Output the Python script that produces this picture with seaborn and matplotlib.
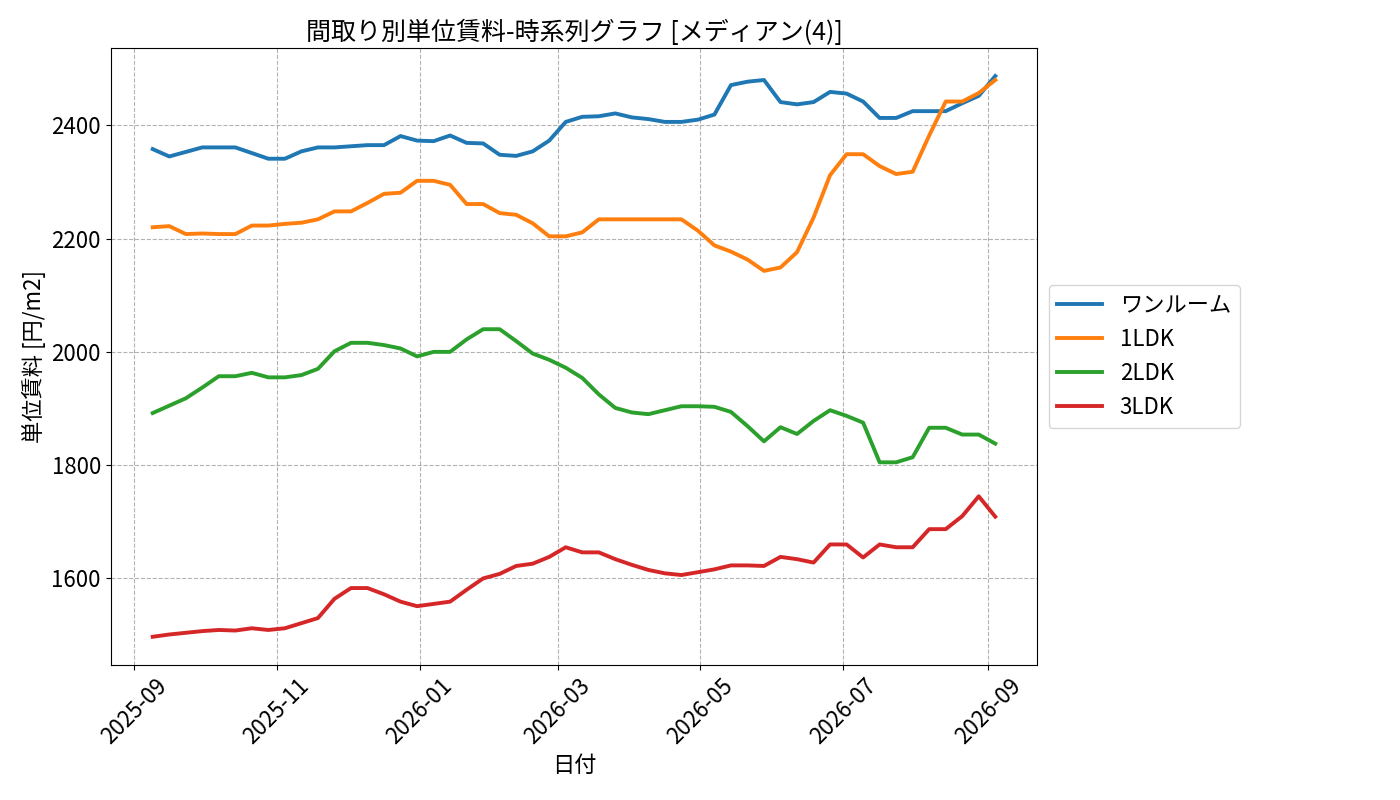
import pandas as pd
import seaborn as sns
import matplotlib
matplotlib.use("Agg")
import matplotlib.pyplot as plt
import matplotlib.dates as mdates

plt.rcParams['font.family'] = ['Noto Sans CJK JP', 'DejaVu Sans']

# weekly observation dates (52 points)
dates = pd.date_range("2025-09-09", "2026-09-04", periods=52)

layouts = ["ワンルーム", "1LDK", "2LDK", "3LDK"]

one_room = [2358, 2345, 2353, 2361, 2361, 2361, 2351, 2341, 2341, 2354,
            2361, 2361, 2363, 2365, 2365, 2381, 2373, 2372, 2382, 2369,
            2368, 2348, 2346, 2354, 2373, 2406, 2415, 2416, 2421, 2414,
            2411, 2406, 2406, 2410, 2419, 2471, 2477, 2480, 2441, 2437,
            2441, 2459, 2456, 2442, 2413, 2413, 2425, 2425, 2425, 2439,
            2452, 2487]
ldk1 = [2220, 2222, 2208, 2209, 2208, 2208, 2223, 2223, 2226, 2228,
        2234, 2248, 2248, 2263, 2279, 2281, 2302, 2302, 2295, 2261,
        2261, 2245, 2242, 2227, 2204, 2204, 2211, 2234, 2234, 2234,
        2234, 2234, 2234, 2214, 2188, 2177, 2163, 2143, 2149, 2176,
        2237, 2312, 2349, 2349, 2328, 2314, 2318, 2382, 2442, 2442,
        2457, 2480]
ldk2 = [1892, 1905, 1918, 1937, 1957, 1957, 1963, 1955, 1955, 1959,
        1970, 2001, 2016, 2016, 2012, 2006, 1992, 2000, 2000, 2022,
        2040, 2040, 2019, 1997, 1986, 1972, 1954, 1925, 1901, 1893,
        1890, 1897, 1904, 1904, 1903, 1894, 1869, 1842, 1867, 1855,
        1878, 1897, 1887, 1875, 1805, 1805, 1814, 1866, 1866, 1854,
        1854, 1838]
ldk3 = [1497, 1501, 1504, 1507, 1509, 1508, 1512, 1509, 1512, 1521,
        1530, 1564, 1583, 1583, 1572, 1559, 1551, 1555, 1559, 1580,
        1600, 1608, 1622, 1626, 1638, 1655, 1646, 1646, 1634, 1624,
        1615, 1609, 1606, 1611, 1616, 1623, 1623, 1622, 1638, 1634,
        1628, 1660, 1660, 1637, 1660, 1655, 1655, 1687, 1687, 1710,
        1745, 1709]

# long-form table for seaborn
frames = []
for name, vals in zip(layouts, [one_room, ldk1, ldk2, ldk3]):
    frames.append(pd.DataFrame({"日付": dates, "単位賃料": vals, "間取り": name}))
df = pd.concat(frames, ignore_index=True)

palette = ["#1f77b4", "#ff7f0e", "#2ca02c", "#d62728"]

fig, ax = plt.subplots(figsize=(14, 8), dpi=100)
sns.lineplot(data=df, x="日付", y="単位賃料", hue="間取り", hue_order=layouts,
             palette=palette, linewidth=2.8, ax=ax)

ax.set_title("間取り別単位賃料-時系列グラフ [メディアン(4)]", fontsize=18)
ax.set_xlabel("日付", fontsize=16)
ax.set_ylabel("単位賃料 [円/m2]", fontsize=16)
ax.xaxis.set_major_locator(mdates.MonthLocator(bymonth=[1, 3, 5, 7, 9, 11]))
ax.xaxis.set_major_formatter(mdates.DateFormatter("%Y-%m"))
ax.tick_params(axis="both", labelsize=16)
plt.setp(ax.get_xticklabels(), rotation=45)
ax.grid(True, linestyle="--", color="gray", alpha=0.6)

ax.legend(loc="center left", bbox_to_anchor=(1.0, 0.5), fontsize=16)

plt.subplots_adjust(left=0.079, right=0.741, top=0.94, bottom=0.169)
plt.savefig("out.png", dpi=100)
